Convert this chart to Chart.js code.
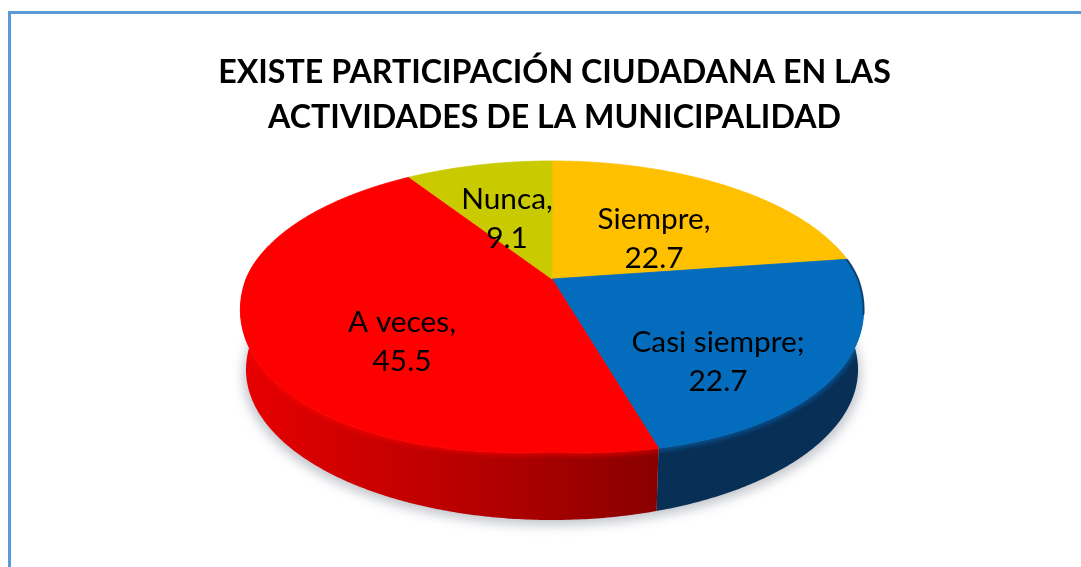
<!DOCTYPE html>
<html><head><meta charset="utf-8">
<style>
html,body{margin:0;padding:0;background:#fff;overflow:hidden}
#wrap{position:relative;width:1081px;height:567px}
#frame{position:absolute;left:8px;top:11px;width:1080px;height:570px;border-left:3px solid #5B9BD5;border-top:3px solid #5B9BD5;pointer-events:none}
canvas{position:absolute;left:0;top:0}
</style>
<script src="https://cdn.jsdelivr.net/npm/chart.js@4/dist/chart.umd.min.js"></script>
</head><body>
<div id="wrap"><div id="frame"></div><canvas id="c" width="1081" height="567"></canvas></div>
<script>
const titleLines = ["EXISTE PARTICIPACIÓN CIUDADANA EN LAS", "ACTIVIDADES DE LA MUNICIPALIDAD"];
const categories = ["Siempre", "Casi siempre", "A veces", "Nunca"];
const separators = [",", ";", ",", ","];
const values = [22.7, 22.7, 45.5, 9.1];
const colors = ["#FFC000", "#046CBC", "#FF0000", "#CACA00"];

// perspective view of the disc
const view = {cx: 552, cy: 279, A: 306, B: 140.3, k: 0.189, bulge: 18};
const project = (a, depth) => {
  const u = Math.cos(a), v = Math.sin(a), w = 1 - view.k * v;
  let x = view.A * u / w, y = view.B * v / w;
  if (depth) { x *= 0.982; y += 62 + 6 * v; }
  else if (v > 0) y += view.bulge * v * Math.abs(u);
  return [view.cx + x, view.cy + y];
};
const arcPts = (a0, a1, depth) => {
  const n = Math.max(2, Math.ceil((a1 - a0) / 0.01)), p = [];
  for (let i = 0; i <= n; i++) p.push(project(a0 + (a1 - a0) * i / n, depth));
  return p;
};
const trace = (ctx, pts) => pts.forEach((p, i) => i ? ctx.lineTo(p[0], p[1]) : ctx.moveTo(p[0], p[1]));

const labelBoxes = [[654, 229], [718, 352], [402, 332], [507, 209]];
const labelFont = '29.8px Lato, "Open Sans", sans-serif';

const disc3d = {
  id: "disc3d",
  beforeDatasetDraw() { return false; },
  afterDatasetsDraw(chart) {
    const ctx = chart.ctx, arcs = chart.getDatasetMeta(0).data;
    const lowFront = -0.25, highFront = Math.PI + 0.25;
    ctx.save();
    // ground shadow
    ctx.save();
    ctx.filter = "blur(6px)";
    ctx.fillStyle = "rgba(130,135,150,0.5)";
    ctx.beginPath();
    trace(ctx, arcPts(0, Math.PI * 2, true).map(p => [view.cx + (p[0] - view.cx) * 1.008, p[1] + 5]));
    ctx.closePath(); ctx.fill();
    ctx.restore();

    // sides
    ctx.filter = "blur(0.6px)";
    arcs.forEach((arc, i) => {
      const lo = Math.max(arc.startAngle, lowFront), hi = Math.min(arc.endAngle, highFront);
      if (hi <= lo) return;
      let fill = colors[i];
      if (i === 1 || i === 0) fill = "#082f56";
      if (i === 2) {
        const g = ctx.createLinearGradient(240, 0, 660, 0);
        g.addColorStop(0, "#e80000"); g.addColorStop(0.3, "#cc0000");
        g.addColorStop(0.7, "#a80000"); g.addColorStop(1, "#880000");
        fill = g;
      }
      ctx.fillStyle = fill;
      ctx.beginPath(); trace(ctx, arcPts(lo, hi, false).concat(arcPts(lo, hi, true).reverse())); ctx.closePath(); ctx.fill();
    });

    // bevel just under the rim, kept inside the side wall
    ctx.save();
    ctx.beginPath();
    trace(ctx, arcPts(lowFront, highFront, false).concat(arcPts(lowFront, highFront, true).reverse()));
    ctx.closePath(); ctx.clip();
    ctx.filter = "blur(2.5px)";
    arcs.forEach((arc, i) => {
      const lo = Math.max(arc.startAngle, lowFront), hi = Math.min(arc.endAngle, highFront);
      if (hi <= lo) return;
      ctx.strokeStyle = colors[i]; ctx.lineWidth = 5; ctx.globalAlpha = 0.7;
      ctx.beginPath(); trace(ctx, arcPts(lo, hi, false)); ctx.stroke();
    });
    ctx.restore();

    // top faces
    ctx.filter = "blur(0.5px)";
    arcs.forEach((arc, i) => {
      ctx.fillStyle = colors[i];
      ctx.beginPath();
      trace(ctx, [[view.cx, view.cy]].concat(arcPts(arc.startAngle, arc.endAngle, false)));
      ctx.closePath(); ctx.fill();
      ctx.strokeStyle = colors[i]; ctx.lineWidth = 0.8; ctx.stroke();
    });
    // dark edge on the far right of the rim
    ctx.strokeStyle = "rgba(8,47,86,0.75)"; ctx.lineWidth = 2;
    ctx.beginPath(); trace(ctx, arcPts(arcs[0].endAngle, 0.22, false)); ctx.stroke();
    ctx.restore();

    // labels
    ctx.save();
    ctx.font = labelFont; ctx.fillStyle = "#000"; ctx.textAlign = "center"; ctx.textBaseline = "alphabetic";
    categories.forEach((c, i) => {
      const [x, y] = labelBoxes[i];
      ctx.fillText(c + separators[i], x, y);
      ctx.fillText(values[i].toFixed(1), x, y + 39);
    });
    ctx.restore();
  }
};

new Chart(document.getElementById("c"), {
  type: "pie",
  data: {labels: categories, datasets: [{data: values, backgroundColor: colors, borderWidth: 0}]},
  plugins: [disc3d],
  options: {
    responsive: false, animation: false,
    layout: {padding: {left: 28, top: 0}},
    plugins: {
      legend: {display: false}, tooltip: {enabled: false},
      title: {
        display: true, text: titleLines, color: "#000", align: "center",
        font: {family: 'Lato, "Open Sans", sans-serif', size: 32.2, weight: "bold", lineHeight: 1.37},
        padding: {top: 51, bottom: 8}
      }
    }
  }
});
</script>
</body></html>
